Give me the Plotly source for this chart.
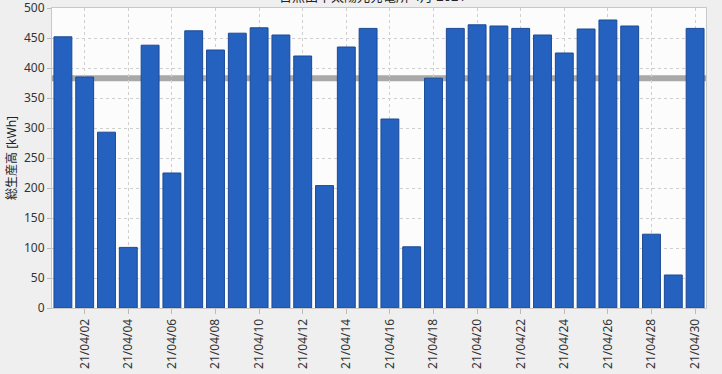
import plotly.graph_objects as go

days = [f"21/04/{d:02d}" for d in range(1, 31)]
production = [452, 385, 293, 101, 438, 225, 462, 430, 458, 467,
              455, 420, 204, 435, 466, 315, 102, 383, 466, 472,
              470, 466, 455, 425, 465, 480, 470, 123, 55, 466]
average_value = 383
tick_labels = days[1::2]
title_text = "日照田中太陽光発電所 4月 2021"
y_title = "総生産高 [kWh]"

font_family = "Noto Sans, Noto Sans CJK JP, DejaVu Sans, sans-serif"

fig = go.Figure()
fig.add_trace(go.Bar(
    x=days, y=production,
    marker=dict(color="#2562c0", line=dict(color="#1b4a94", width=1)),
    width=0.82, showlegend=False,
))
fig.add_shape(
    type="line", xref="paper", yref="y", x0=0, x1=1,
    y0=average_value, y1=average_value,
    line=dict(color="#a9a9a9", width=6), layer="below",
)

fig.update_layout(
    width=722, height=374,
    margin=dict(l=52, r=16, t=8, b=66, autoexpand=False),
    paper_bgcolor="#efefef", plot_bgcolor="#fcfcfc",
    font=dict(family=font_family, size=12, color="#333333"),
    annotations=[dict(
        text=title_text, xref="paper", yref="paper", x=0.49, y=1,
        yanchor="bottom", yshift=1, showarrow=False,
        font=dict(size=13, color="#222222", family=font_family),
    )],
)
fig.update_xaxes(
    type="category", range=[-0.5, 29.5], automargin=False,
    ticklabeloverflow="allow",
    tickmode="array", tickvals=tick_labels, ticktext=tick_labels,
    tickangle=-90, ticks="outside", ticklen=5, tickcolor="#bbbbbb",
    showgrid=True, gridcolor="#cfcfcf", griddash="dot", gridwidth=1,
    showline=True, linecolor="#c8c8c8", mirror=True,
    tickfont=dict(size=12, color="#333333"),
)
fig.update_yaxes(
    range=[0, 500], dtick=50, ticks="outside", ticklen=4, tickcolor="#bbbbbb",
    automargin=False, ticklabeloverflow="allow",
    showgrid=True, gridcolor="#cfcfcf", griddash="dot", gridwidth=1,
    showline=True, linecolor="#c8c8c8", mirror=True, zeroline=False,
    title=dict(text=y_title, standoff=4, font=dict(size=12, color="#222222")),
    tickfont=dict(size=12, color="#333333"),
)

fig.write_html("out.html")
